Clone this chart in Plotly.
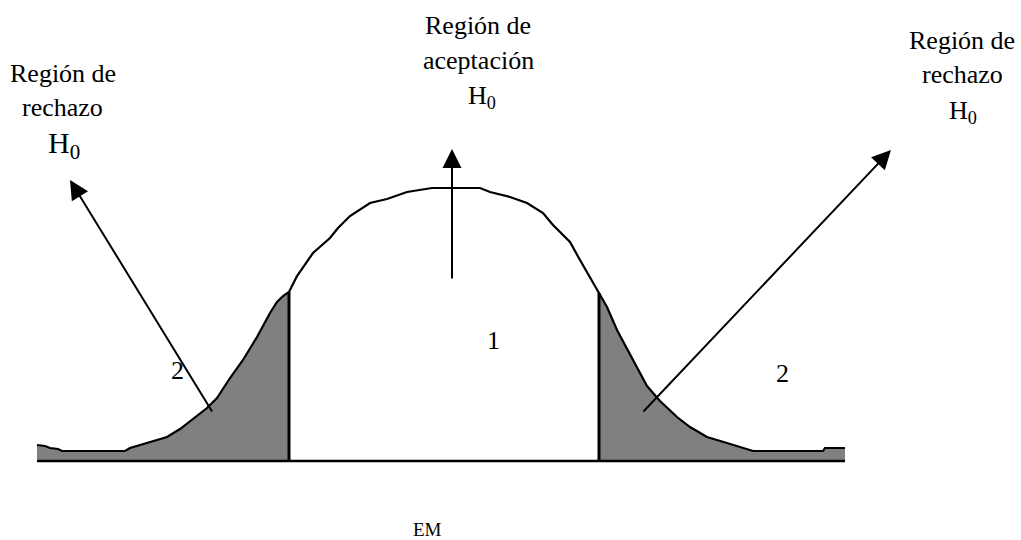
import plotly.graph_objects as go

# Bell curve outline (diagram units: x to the right, y downward)
curve_x = [37, 45, 50, 58, 62, 125, 130, 150, 167, 180, 197, 207, 217, 230, 243, 257, 270, 277, 283, 289,
           297, 307, 313, 330, 338, 350, 370, 387, 407, 432, 480, 490, 510, 527, 543, 553, 570, 580, 590, 599,
           607, 617, 633, 647, 660, 677, 690, 707, 727, 743, 753, 823, 825, 845]
curve_y = [445, 446, 448, 449, 451, 451, 448, 442, 437, 429, 416, 408, 398, 378, 360, 337, 313, 302, 296, 292,
           276, 261, 253, 238, 228, 216, 203, 199, 192, 188, 188, 192, 197, 203, 213, 225, 242, 260, 277, 293,
           307, 330, 360, 386, 401, 417, 427, 437, 443, 448, 451, 451, 448, 448]
baseline_y = 461
left_cut = 289
right_cut = 599

# Arrows: (tail_x, tail_y, head_x, head_y)
arrows = [(213, 413, 70, 180), (452, 280, 452, 149), (642, 413, 891, 150)]

# Text labels: (x, y, text, size)
labels = [
    (63, 73, "Región de", 26), (62, 107, "rechazo", 26), (64, 145, "H<sub>0</sub>", 30),
    (478, 25, "Región de", 26), (478, 60, "aceptación", 26), (482, 97, "H<sub>0</sub>", 26),
    (962, 40, "Región de", 26), (962, 74, "rechazo", 26), (963, 112, "H<sub>0</sub>", 26),
    (493, 340, "1", 26), (177, 370, "2", 26), (782, 373, "2", 26),
    (427, 529, "EM", 19),
]

SERIF = "Liberation Serif, Times New Roman, serif"

fig = go.Figure()

def tail(xmin, xmax):
    xs = [x for x in curve_x if xmin <= x <= xmax]
    ys = [y for x, y in zip(curve_x, curve_y) if xmin <= x <= xmax]
    return [xs[0]] + xs + [xs[-1], xs[0]], [baseline_y] + ys + [baseline_y, baseline_y]

for lo, hi in [(curve_x[0], left_cut), (right_cut, curve_x[-1])]:
    tx, ty = tail(lo, hi)
    fig.add_trace(go.Scatter(x=tx, y=ty, mode="lines", fill="toself", fillcolor="#808080",
                             line=dict(width=0), hoverinfo="skip", showlegend=False))

fig.add_trace(go.Scatter(x=curve_x, y=curve_y, mode="lines", line=dict(color="black", width=2.2),
                         hoverinfo="skip", showlegend=False))

# baseline and cut lines
fig.add_trace(go.Scatter(x=[curve_x[0], curve_x[-1]], y=[baseline_y, baseline_y], mode="lines",
                         line=dict(color="black", width=2.5), hoverinfo="skip", showlegend=False))
for cx in [left_cut, right_cut]:
    cy = curve_y[curve_x.index(cx)]
    fig.add_trace(go.Scatter(x=[cx, cx], y=[baseline_y, cy], mode="lines",
                             line=dict(color="black", width=3), hoverinfo="skip", showlegend=False))

for tx, ty, hx, hy in arrows:
    fig.add_annotation(x=hx, y=hy, ax=tx, ay=ty, xref="x", yref="y", axref="x", ayref="y",
                       showarrow=True, arrowhead=2, arrowsize=1.9, arrowwidth=2, arrowcolor="black",
                       text="", font=dict(size=12))

for x, y, t, s in labels:
    fig.add_annotation(x=x, y=y, xref="x", yref="y", text=t, showarrow=False,
                       font=dict(family=SERIF, size=s, color="black"),
                       xanchor="center", yanchor="middle")

fig.update_xaxes(range=[0, 1021], visible=False, fixedrange=True)
fig.update_yaxes(range=[540, 0], visible=False, fixedrange=True)
fig.update_layout(width=1021, height=540, margin=dict(l=0, r=0, t=0, b=0),
                  font=dict(family=SERIF),
                  plot_bgcolor="white", paper_bgcolor="white", showlegend=False)

fig.write_html("out.html", config={"displayModeBar": False},
               post_script="document.body.style.margin='0';document.body.style.overflow='hidden';")
